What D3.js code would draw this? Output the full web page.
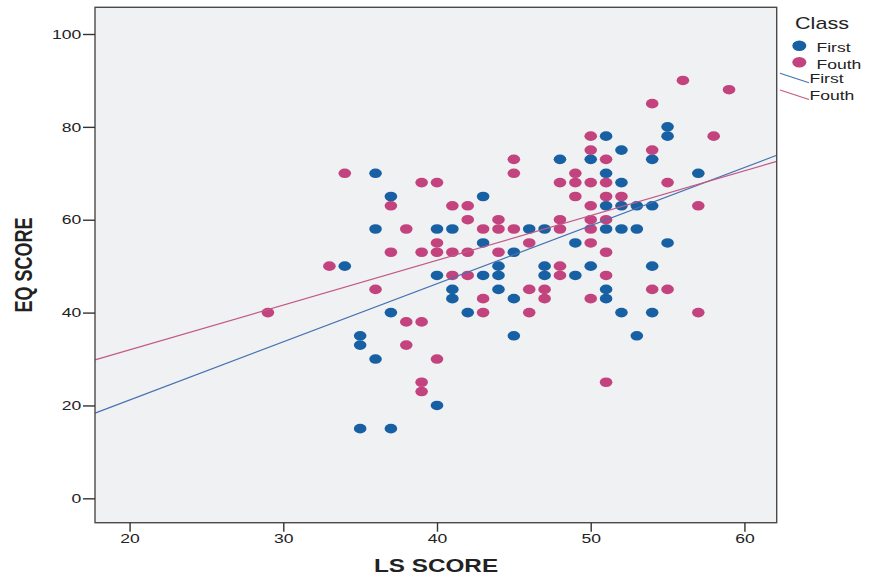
<!DOCTYPE html>
<html>
<head>
<meta charset="utf-8">
<script src="https://cdn.jsdelivr.net/npm/d3@7"></script>
<style>
  body { margin: 0; background: #fff; }
  text { font-family: Arial, "Liberation Sans", sans-serif; fill: #222; }
</style>
</head>
<body>
<div id="chart"></div>
<script>
var width = 873, height = 577;
var SX = 1.35; // source image is stretched sideways, text too

// LS score / EQ score pairs per class
var firstLS = [34,36,36,35,35,36,35,37,37,37,40,40,40,41,41,41,42,43,43,43,44,44,44,45,45,45,46,47,47,47,48,49,49,50,50,51,51,51,51,51,51,52,52,52,52,52,53,53,53,54,54,54,54,55,55,55,57];
var firstEQ = [50,70,58,35,33,30,15,15,65,40,20,58,48,58,45,43,40,65,55,48,50,48,45,53,43,35,58,58,50,48,73,55,48,73,50,78,70,63,58,45,43,75,68,63,58,40,63,58,35,73,63,50,40,80,78,55,70];

var fouthLS = [29,33,34,36,37,37,38,38,38,39,39,39,39,39,40,40,40,40,41,41,41,42,42,42,42,43,43,43,44,44,44,45,45,45,46,46,46,47,47,48,48,48,48,48,49,49,49,50,50,50,50,50,50,50,50,51,51,51,51,51,51,51,52,54,54,54,55,55,56,57,57,58,59];
var fouthEQ = [40,50,70,45,63,53,58,38,33,68,53,38,25,23,68,55,53,30,63,53,48,63,60,53,48,58,43,40,60,58,53,73,70,58,55,45,40,45,43,68,60,58,50,48,70,68,65,78,75,68,63,60,58,55,43,73,68,65,60,53,48,25,65,85,75,45,68,45,90,63,40,78,88];

// fit lines (intercept, slope) as drawn in the source
var classNames = ["First", "Fouth"];
var fitIntercept = [-3.87, 12.7];
var fitSlope = [1.252, 0.964];

var xTicks = [20, 30, 40, 50, 60];
var yTicks = [0, 20, 40, 60, 80, 100];

var dotColor = ["#1760a3", "#c2437d"];
var lineColor = ["#4672b2", "#c25a85"];

var plot = {left: 95, right: 776.7, top: 7.3, bottom: 522.7};

var x = d3.scaleLinear().domain([17.75, 62.1]).range([plot.left, plot.right]);
var y = d3.scaleLinear().domain([-5.25, 105.75]).range([plot.bottom, plot.top]);

var svg = d3.select("#chart")
  .append("svg")
  .attr("width", width)
  .attr("height", height);

svg.append("rect")
  .attr("x", plot.left)
  .attr("y", plot.top)
  .attr("width", plot.right - plot.left)
  .attr("height", plot.bottom - plot.top)
  .attr("fill", "#f0f1f3");

// points
var series = [
  {name: classNames[0], ls: firstLS, eq: firstEQ, color: dotColor[0]},
  {name: classNames[1], ls: fouthLS, eq: fouthEQ, color: dotColor[1]}
];

series.forEach(function(s){
  var pts = s.ls.map(function(v, i){ return [v, s.eq[i]]; });
  svg.append("g").selectAll("ellipse")
    .data(pts)
    .enter().append("ellipse")
    .attr("cx", function(d){ return x(d[0]); })
    .attr("cy", function(d){ return y(d[1]); })
    .attr("rx", 6.3)
    .attr("ry", 4.8)
    .attr("fill", s.color);
});

// fit lines across the plot
var x0 = x.domain()[0], x1 = x.domain()[1];
classNames.forEach(function(c, i){
  svg.append("line")
    .attr("x1", x(x0))
    .attr("y1", y(fitIntercept[i] + fitSlope[i] * x0))
    .attr("x2", x(x1))
    .attr("y2", y(fitIntercept[i] + fitSlope[i] * x1))
    .attr("stroke", lineColor[i])
    .attr("stroke-width", 1.2);
});

// frame
svg.append("rect")
  .attr("x", plot.left)
  .attr("y", plot.top)
  .attr("width", plot.right - plot.left)
  .attr("height", plot.bottom - plot.top)
  .attr("fill", "none")
  .attr("stroke", "#4a4a4a")
  .attr("stroke-width", 1.4);

// axes
var yAxis = svg.append("g")
  .attr("transform", "translate(" + plot.left + ",0)")
  .call(d3.axisLeft(y).tickValues(yTicks).tickSize(12).tickFormat(d3.format("d")));
yAxis.select(".domain").remove();
yAxis.selectAll("line").attr("stroke", "#333").attr("stroke-width", 1.4);
yAxis.selectAll("text")
  .attr("x", -13.8 / SX)
  .attr("transform", "scale(" + SX + ",1)")
  .style("font-size", "13px")
  .style("font-family", "Arial, 'Liberation Sans', sans-serif")
  .attr("fill", "#222");

var xAxis = svg.append("g")
  .attr("transform", "translate(0," + plot.bottom + ")")
  .call(d3.axisBottom(x).tickValues(xTicks).tickSize(9).tickFormat(d3.format("d")));
xAxis.select(".domain").remove();
xAxis.selectAll("line").attr("stroke", "#333").attr("stroke-width", 1.4);
xAxis.selectAll("text")
  .attr("y", 11)
  .attr("transform", "scale(" + SX + ",1)")
  .style("font-size", "13px")
  .style("font-family", "Arial, 'Liberation Sans', sans-serif")
  .attr("fill", "#222");

// axis titles
svg.append("text")
  .text("LS SCORE")
  .attr("text-anchor", "middle")
  .attr("font-weight", "bold")
  .attr("font-size", 18)
  .attr("transform", "translate(436,572) scale(" + SX + ",1)");

svg.append("text")
  .text("EQ SCORE")
  .attr("text-anchor", "middle")
  .attr("font-weight", "bold")
  .attr("font-size", 18)
  .attr("transform", "translate(32,265) scale(" + SX + ",1) rotate(-90)");

// legend
svg.append("text")
  .text("Class")
  .attr("font-size", 16)
  .attr("transform", "translate(795,29) scale(" + SX + ",1)");

var legDotY = [45.7, 62.3];
var legLineY = [73.3, 90];
classNames.forEach(function(c, i){
  svg.append("ellipse")
    .attr("cx", 799.3)
    .attr("cy", legDotY[i])
    .attr("rx", 7)
    .attr("ry", 5.2)
    .attr("fill", dotColor[i]);
  svg.append("text")
    .text(c)
    .attr("font-size", 13)
    .attr("transform", "translate(816.5," + (legDotY[i] + 6.5) + ") scale(" + SX + ",1)");
  svg.append("line")
    .attr("x1", 780)
    .attr("y1", legLineY[i])
    .attr("x2", 809)
    .attr("y2", legLineY[i] + 9.5)
    .attr("stroke", lineColor[i])
    .attr("stroke-width", 1.2);
  svg.append("text")
    .text(c)
    .attr("font-size", 13)
    .attr("transform", "translate(809.5," + (legLineY[i] + 9.5) + ") scale(" + SX + ",1)");
});
</script>
</body>
</html>
